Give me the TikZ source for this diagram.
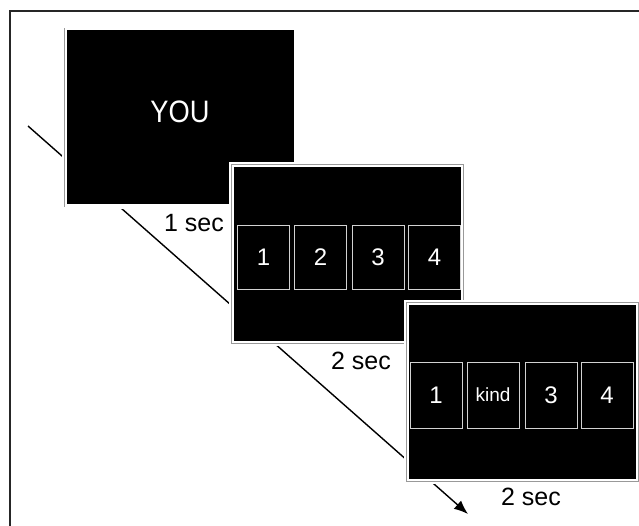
\documentclass[tikz,border=0pt]{standalone}
\usepackage{fontspec}
\setmainfont{Liberation Sans}
\usetikzlibrary{arrows.meta}
\begin{document}
\begin{tikzpicture}[x=1pt,y=-1pt,
  screen/.style={fill=black, draw=white, line width=5pt, minimum width=232pt, minimum height=179pt, inner sep=0pt, outer sep=0pt},
  rim/.style={draw=gray!80, line width=0.8pt},
  cell/.style={draw=gray!35, line width=0.8pt, fill=black, text=white, minimum width=52pt, minimum height=64pt, inner sep=0pt, font=\fontsize{24}{28}\selectfont},
  lab/.style={text=black, inner sep=0pt, font=\fontsize{25}{28}\selectfont},
  frame/.style={draw=black!85, line width=2pt}]
\useasboundingbox (0,0) rectangle (639,525);
\draw[frame] (10,530) -- (10,11) -- (645,11);
% timeline
\coordinate (start) at (28,126);
\coordinate (end) at (468,514);
\draw[line width=1.4pt, -{Latex[length=14pt,width=11pt]}] (start) -- (end);
% screen 1
\node[screen] (s1) at (180.5,117) {};
\draw[rim] (s1.south west) -- (s1.north west);
\node[text=white, font=\fontsize{31}{34}\selectfont, xscale=0.88] (you) at (180,112) {YOU};
% screen 2
\node[screen] (s2) at (347,253.5) {};
\draw[rim] (s2.south west) rectangle (s2.north east);
\node[cell] (b21) at (263.5,257) {1};
\node[cell] (b22) at (320.5,257) {2};
\node[cell] (b23) at (378,257) {3};
\node[cell] (b24) at (434.5,257) {4};
% screen 3
\node[screen] (s3) at (522,391.5) {};
\draw[rim] (s3.south west) rectangle (s3.north east);
\node[cell, minimum height=66pt] (b31) at (436,395) {1};
\node[cell, minimum height=66pt, font=\fontsize{19}{22}\selectfont] (b32) at (493,395) {kind};
\node[cell, minimum height=66pt] (b33) at (551,395) {3};
\node[cell, minimum height=66pt] (b34) at (607,395) {4};
% labels
\node[lab] (t1) at (194,223) {1 sec};
\node[lab] (t2) at (361,361) {2 sec};
\node[lab] (t3) at (531,497) {2 sec};
\end{tikzpicture}
\end{document}
